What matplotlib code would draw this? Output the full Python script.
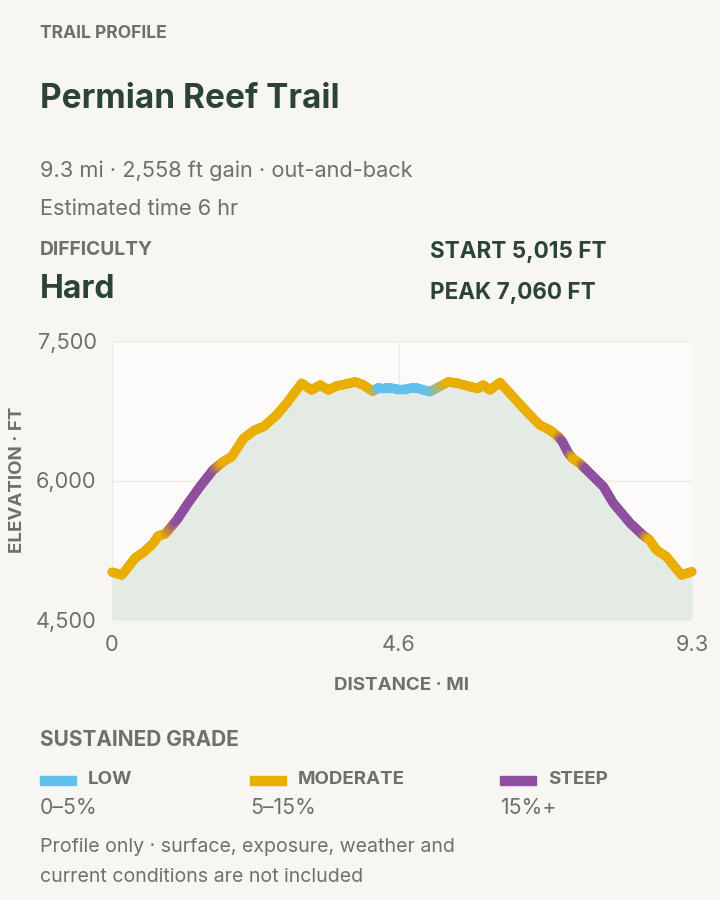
import numpy as np
import matplotlib
matplotlib.use("Agg")
import matplotlib.pyplot as plt
from matplotlib.collections import LineCollection
from matplotlib.colors import to_rgb

# trail profile (miles, feet)
distance = [0.00, 0.16, 0.37, 0.50, 0.66, 0.74, 0.85, 1.04, 1.20, 1.41,
            1.62, 1.78, 1.92, 2.11, 2.29, 2.43, 2.64, 2.80, 3.04, 3.20,
            3.34, 3.47, 3.60, 3.76, 3.90, 4.03, 4.18, 4.28, 4.40, 4.56,
            4.72, 4.86, 4.96, 5.10, 5.39, 5.55, 5.74, 5.87, 5.95, 6.06,
            6.22, 6.43, 6.65, 6.86, 7.02, 7.14, 7.22, 7.32, 7.40, 7.50,
            7.60, 7.88, 8.04, 8.31, 8.50, 8.62, 8.73, 8.89, 9.13, 9.30]
elevation = [5015, 4984, 5167, 5224, 5325, 5404, 5425, 5576, 5737, 5934,
             6113, 6202, 6256, 6454, 6543, 6579, 6704, 6830, 7045, 6973,
             7027, 6973, 7016, 7038, 7060, 7027, 6960, 7000, 7000, 6985,
             6985, 7000, 6980, 6955, 7060, 7045, 7009, 6991, 7027, 6973,
             7055, 6901, 6740, 6597, 6543, 6480, 6420, 6290, 6230, 6185,
             6120, 5934, 5755, 5540, 5420, 5360, 5253, 5181, 4984, 5020]
# grade class at each point: L = low, M = moderate, S = steep
grade = list("MMMMMMMSSSSMMMMMMMMMMMMMMMMLLLLLLLMMMMMMMMMMMMSSMMSSSSSMMMMM")

grade_names = ["LOW", "MODERATE", "STEEP"]
grade_ranges = ["0–5%", "5–15%", "15%+"]
grade_colors = {"L": "#62c1ec", "M": "#e9ae00", "S": "#8e4f9f"}

x_ticks = [0, 4.6, 9.3]
x_ticklabels = ["0", "4.6", "9.3"]
y_ticks = [4500, 6000, 7500]
y_ticklabels = ["4,500", "6,000", "7,500"]

BG = "#f7f6f2"
DARK = "#2c4435"
GREY = "#6c716b"

plt.rcParams["font.family"] = ["Inter", "DejaVu Sans"]

W, H = 720, 900
fig = plt.figure(figsize=(W / 100, H / 100), dpi=100, facecolor=BG)


def pos(x, y):
    # pixel coords (from top-left) -> figure fraction
    return x / W, 1 - y / H


def label(x, y, s, size, color=GREY, weight="normal", **kw):
    fig.text(*pos(x, y + 2), s, fontsize=size, color=color, fontweight=weight,
             va="center", **kw)


# header
label(40, 31, "TRAIL PROFILE", 12.6, weight="bold")
label(40, 97, "Permian Reef Trail", 24, color=DARK, weight="bold")
label(40, 169, "9.3 mi · 2,558 ft gain · out-and-back", 15.7)
label(40, 207, "Estimated time 6 hr", 15.7)
label(40, 248, "DIFFICULTY", 13.8, weight="bold")
label(40, 288, "Hard", 23, color=DARK, weight="bold")
label(430, 250, "START 5,015 FT", 16.2, color=DARK, weight="bold")
label(430, 291, "PEAK 7,060 FT", 16.2, color=DARK, weight="bold")

# chart
ax = fig.add_axes([112 / W, 1 - 620 / H, 580 / W, 279 / H])
ax.set_facecolor("#fcfbf9")
for s in ax.spines.values():
    s.set_visible(False)
ax.set_xlim(0, 9.3)
ax.set_ylim(4500, 7500)
ax.set_xticks(x_ticks, x_ticklabels)
ax.set_yticks(y_ticks, y_ticklabels)
ax.tick_params(length=0, labelsize=15.7, labelcolor=GREY)
ax.tick_params(axis="x", pad=11)
ax.tick_params(axis="y", pad=11)
ax.grid(True, color="#ecebe8", lw=1)
ax.set_axisbelow(True)

x = np.array(distance)
y = np.array(elevation)
ax.fill_between(x, y, 4500, color="#e3ebe4", lw=0, zorder=2)

# colour-blended profile line
segs, cols = [], []
n = 12
for i in range(len(x) - 1):
    c0 = np.array(to_rgb(grade_colors[grade[i]]))
    c1 = np.array(to_rgb(grade_colors[grade[i + 1]]))
    t = np.linspace(0, 1, n + 1)
    xs = x[i] + (x[i + 1] - x[i]) * t
    ys = y[i] + (y[i + 1] - y[i]) * t
    for k in range(n):
        segs.append([(xs[k], ys[k]), (xs[k + 1], ys[k + 1])])
        f = (k + 0.5) / n
        cols.append(c0 * (1 - f) + c1 * f)
lc = LineCollection(segs, colors=cols, linewidths=6.7, capstyle="round",
                    joinstyle="round", zorder=3, clip_on=False)
ax.add_collection(lc)

label(402, 683, "DISTANCE · MI", 13.5, weight="bold", ha="center")
fig.text(*pos(18, 480), "ELEVATION · FT", fontsize=13.5, color=GREY,
         fontweight="bold", rotation=90, ha="center", va="center")

# legend
label(40, 738, "SUSTAINED GRADE", 15, weight="bold")
for i, key in enumerate(["L", "M", "S"]):
    x0 = [40, 250, 500][i]
    fig.patches.append(plt.Rectangle(pos(x0, 785), 36 / W, 9 / H,
                                     transform=fig.transFigure,
                                     color=grade_colors[key]))
    label(x0 + 48, 777, grade_names[i], 13.5, weight="bold")
    label(x0, 806, grade_ranges[i], 15.3)

label(40, 845, "Profile only · surface, exposure, weather and", 14.1)
label(40, 875, "current conditions are not included", 14.1)

fig.savefig("out.png", dpi=100, facecolor=BG)
